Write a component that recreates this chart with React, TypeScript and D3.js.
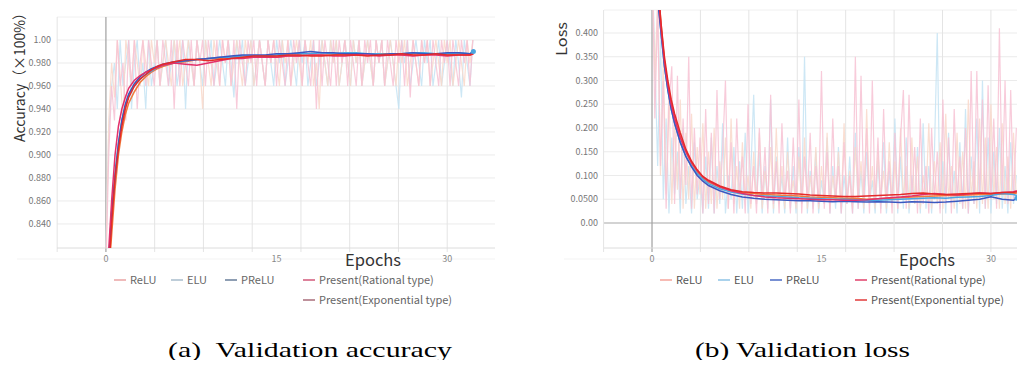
import React from "react";
import * as d3 from "d3";

// epochs used by the smoothed curves
const smoothEpochs = [0.2, 0.5, 0.8, 1.1, 1.4, 1.7, 2.0, 2.5, 3.0, 3.5, 4.0, 4.5, 5, 6, 7, 8, 9, 10, 11, 12, 13, 14, 15, 16, 17, 18, 19, 20, 21, 22, 23, 24, 25, 26, 27, 28, 29, 30, 31, 32, 32.3];
// raw (unsmoothed) values are logged every quarter epoch
const RAW_STEP = 0.25;

// ---- validation accuracy ----
const accRawPink = [
  0.80, 0.90, 0.96, 0.93, 1.00, 0.96, 0.98, 0.93, 1.00, 0.96, 1.00, 0.94, 0.98, 1.00, 0.96, 1.00, 0.98, 0.96, 1.00, 0.96,
  1.00, 0.98, 0.96, 1.00, 0.94, 1.00, 0.96, 1.00, 0.98, 0.96, 1.00, 0.96, 1.00, 0.98, 1.00, 0.96, 1.00, 0.98, 0.96, 1.00,
  0.96, 1.00, 0.98, 1.00, 0.96, 1.00, 0.94, 1.00, 0.98, 0.96, 1.00, 0.98, 1.00, 0.96, 1.00, 0.98, 0.96, 1.00, 0.98, 1.00,
  0.96, 1.00, 0.98, 0.96, 1.00, 0.96, 1.00, 0.98, 1.00, 0.96, 1.00, 0.98, 0.96, 1.00, 0.94, 1.00, 0.96, 1.00, 0.98, 0.96,
  1.00, 0.96, 1.00, 0.98, 1.00, 0.96, 1.00, 0.98, 0.96, 1.00, 0.96, 1.00, 0.98, 1.00, 0.96, 1.00, 0.98, 1.00, 0.96, 1.00,
  0.98, 0.96, 1.00, 0.98, 1.00, 0.96, 1.00, 0.95, 1.00, 0.98, 0.96, 1.00, 0.98, 1.00, 0.96, 1.00, 0.98, 0.96, 1.00, 0.98,
  1.00, 0.96, 1.00, 0.98, 0.96, 1.00, 0.98, 1.00, 0.96, 1.00
];
const accRawBlue = [
  0.82, 0.92, 0.96, 0.98, 0.94, 1.00, 0.96, 0.98, 1.00, 0.94, 0.98, 1.00, 0.96, 0.98, 0.94, 1.00, 0.96, 0.98, 1.00, 0.96,
  0.98, 1.00, 0.96, 0.98, 1.00, 0.96, 0.98, 1.00, 0.94, 1.00, 0.98, 0.96, 1.00, 0.98, 0.96, 1.00, 0.98, 1.00, 0.96, 0.98,
  1.00, 0.98, 0.96, 1.00, 0.98, 0.95, 1.00, 0.98, 1.00, 0.96, 0.98, 1.00, 0.96, 0.98, 1.00, 0.98, 0.96, 1.00, 0.98, 0.96,
  1.00, 0.98, 1.00, 0.96, 0.98, 1.00, 0.98, 0.96, 1.00, 0.98, 1.00, 0.96, 0.98, 1.00, 0.96, 0.98, 1.00, 0.98, 0.96, 1.00,
  0.98, 1.00, 0.96, 0.98, 1.00, 0.98, 0.96, 1.00, 0.98, 1.00, 0.96, 0.98, 1.00, 0.98, 0.96, 1.00, 0.98, 1.00, 0.96, 0.98,
  1.00, 0.98, 0.96, 0.94, 1.00, 0.98, 1.00, 0.96, 0.98, 1.00, 0.98, 0.96, 1.00, 0.98, 1.00, 0.96, 0.98, 1.00, 0.96, 0.98,
  1.00, 0.98, 0.96, 1.00, 0.98, 0.95, 1.00, 0.98, 0.96, 1.00
];
const accRawPeach = [
  0.81, 0.93, 0.98, 0.95, 1.00, 0.97, 0.93, 1.00, 0.98, 0.96, 1.00, 0.98, 0.96, 1.00, 0.98, 0.96, 1.00, 0.98, 1.00, 0.96,
  0.98, 1.00, 0.98, 0.96, 1.00, 0.98, 1.00, 0.96, 0.98, 1.00, 0.98, 0.96, 1.00, 0.98, 0.94, 1.00, 0.98, 0.96, 1.00, 0.98,
  0.96, 1.00, 0.98, 1.00, 0.96, 0.98, 1.00, 0.98, 0.96, 1.00, 0.98, 1.00, 0.96, 0.98, 1.00, 0.98, 0.96, 1.00, 0.98, 1.00,
  0.98, 0.96, 1.00, 0.98, 1.00, 0.96, 0.98, 1.00, 0.98, 0.96, 1.00, 0.98, 1.00, 0.96, 0.98, 0.94, 1.00, 0.98, 0.96, 1.00,
  0.98, 1.00, 0.96, 0.98, 1.00, 0.98, 0.96, 1.00, 0.98, 1.00, 0.96, 0.98, 1.00, 0.98, 0.96, 1.00, 0.98, 1.00, 0.96, 0.98,
  1.00, 0.98, 0.96, 1.00, 0.98, 1.00, 0.96, 0.98, 1.00, 0.98, 0.96, 1.00, 0.98, 1.00, 0.96, 0.98, 1.00, 0.98, 0.96, 1.00,
  0.98, 1.00, 0.96, 0.98, 1.00, 0.98, 0.96, 1.00, 0.98, 1.00
];
const accReLU = [0.79, 0.83, 0.87, 0.90, 0.92, 0.935, 0.945, 0.955, 0.963, 0.968, 0.972, 0.975, 0.977, 0.980, 0.981, 0.983, 0.984, 0.984, 0.985, 0.985, 0.985, 0.986, 0.985, 0.986, 0.986, 0.987, 0.987, 0.987, 0.988, 0.987, 0.988, 0.988, 0.988, 0.987, 0.988, 0.988, 0.988, 0.987, 0.988, 0.988, 0.989];
const accELU = [0.80, 0.85, 0.885, 0.91, 0.93, 0.942, 0.952, 0.960, 0.966, 0.970, 0.973, 0.976, 0.978, 0.980, 0.982, 0.983, 0.984, 0.985, 0.985, 0.986, 0.986, 0.986, 0.987, 0.988, 0.988, 0.988, 0.989, 0.988, 0.989, 0.989, 0.988, 0.988, 0.987, 0.988, 0.989, 0.989, 0.988, 0.988, 0.989, 0.988, 0.990];
const accPReLU = [0.80, 0.85, 0.88, 0.91, 0.93, 0.944, 0.953, 0.962, 0.968, 0.972, 0.975, 0.977, 0.979, 0.981, 0.982, 0.983, 0.984, 0.985, 0.986, 0.987, 0.987, 0.987, 0.988, 0.988, 0.989, 0.990, 0.989, 0.989, 0.988, 0.988, 0.988, 0.987, 0.988, 0.988, 0.989, 0.988, 0.988, 0.989, 0.989, 0.988, 0.990];
const accRational = [0.81, 0.86, 0.90, 0.925, 0.94, 0.950, 0.958, 0.965, 0.969, 0.972, 0.974, 0.976, 0.978, 0.980, 0.979, 0.978, 0.980, 0.982, 0.984, 0.984, 0.985, 0.985, 0.985, 0.986, 0.986, 0.987, 0.987, 0.986, 0.986, 0.987, 0.987, 0.986, 0.987, 0.987, 0.986, 0.987, 0.987, 0.986, 0.987, 0.987, 0.988];
const accExponential = [0.79, 0.84, 0.88, 0.905, 0.925, 0.940, 0.950, 0.960, 0.966, 0.970, 0.974, 0.977, 0.979, 0.981, 0.983, 0.983, 0.982, 0.983, 0.984, 0.985, 0.986, 0.986, 0.986, 0.987, 0.987, 0.986, 0.986, 0.987, 0.987, 0.987, 0.986, 0.987, 0.987, 0.988, 0.987, 0.987, 0.988, 0.987, 0.987, 0.987, 0.988];
const accTicks = [0.84, 0.86, 0.88, 0.90, 0.92, 0.94, 0.96, 0.98, 1.00];
const accTickLabels = ["0.840", "0.860", "0.880", "0.900", "0.920", "0.940", "0.960", "0.980", "1.00"];

// ---- validation loss ----
const lossRawPink = [
  0.60, 0.22, 0.45, 0.12, 0.30, 0.03, 0.25, 0.33, 0.04, 0.31, 0.05, 0.22, 0.08, 0.35, 0.03, 0.20, 0.06, 0.18, 0.02, 0.24,
  0.04, 0.19, 0.02, 0.28, 0.05, 0.15, 0.30, 0.03, 0.17, 0.02, 0.22, 0.06, 0.14, 0.02, 0.25, 0.04, 0.12, 0.02, 0.20, 0.05,
  0.16, 0.02, 0.27, 0.04, 0.13, 0.02, 0.21, 0.05, 0.11, 0.02, 0.18, 0.04, 0.26, 0.02, 0.14, 0.05, 0.19, 0.02, 0.12, 0.04,
  0.32, 0.03, 0.15, 0.02, 0.22, 0.05, 0.12, 0.02, 0.17, 0.04, 0.10, 0.02, 0.35, 0.03, 0.31, 0.05, 0.20, 0.02, 0.30, 0.04,
  0.18, 0.02, 0.24, 0.05, 0.13, 0.02, 0.19, 0.03, 0.18, 0.28, 0.03, 0.27, 0.05, 0.16, 0.02, 0.22, 0.04, 0.12, 0.02, 0.20,
  0.05, 0.15, 0.02, 0.26, 0.04, 0.18, 0.02, 0.24, 0.05, 0.14, 0.03, 0.20, 0.02, 0.32, 0.04, 0.32, 0.05, 0.26, 0.03, 0.29,
  0.05, 0.22, 0.03, 0.41, 0.06, 0.30, 0.04, 0.28, 0.05, 0.20
];
const lossRawBlue = [
  0.55, 0.35, 0.12, 0.40, 0.05, 0.22, 0.02, 0.18, 0.06, 0.15, 0.02, 0.20, 0.04, 0.12, 0.02, 0.17, 0.05, 0.10, 0.02, 0.14,
  0.03, 0.18, 0.02, 0.12, 0.04, 0.21, 0.02, 0.10, 0.05, 0.16, 0.02, 0.13, 0.03, 0.19, 0.02, 0.11, 0.27, 0.04, 0.15, 0.02,
  0.12, 0.03, 0.26, 0.02, 0.14, 0.04, 0.10, 0.02, 0.18, 0.03, 0.12, 0.02, 0.16, 0.04, 0.35, 0.02, 0.11, 0.03, 0.15, 0.02,
  0.09, 0.04, 0.18, 0.02, 0.12, 0.03, 0.16, 0.02, 0.10, 0.04, 0.14, 0.02, 0.19, 0.03, 0.11, 0.02, 0.15, 0.04, 0.09, 0.02,
  0.13, 0.03, 0.17, 0.02, 0.11, 0.04, 0.22, 0.02, 0.14, 0.03, 0.18, 0.02, 0.10, 0.04, 0.16, 0.02, 0.21, 0.03, 0.12, 0.02,
  0.15, 0.40, 0.03, 0.13, 0.02, 0.19, 0.04, 0.11, 0.02, 0.17, 0.03, 0.24, 0.02, 0.14, 0.04, 0.22, 0.02, 0.30, 0.03, 0.18,
  0.02, 0.15, 0.04, 0.20, 0.03, 0.12, 0.02, 0.17, 0.04, 0.10
];
const lossRawPeach = [
  0.58, 0.30, 0.48, 0.10, 0.35, 0.06, 0.28, 0.04, 0.21, 0.07, 0.26, 0.03, 0.19, 0.05, 0.23, 0.03, 0.16, 0.06, 0.21, 0.03,
  0.15, 0.04, 0.20, 0.03, 0.13, 0.05, 0.18, 0.03, 0.22, 0.04, 0.12, 0.03, 0.17, 0.05, 0.10, 0.03, 0.15, 0.04, 0.19, 0.03,
  0.11, 0.05, 0.16, 0.03, 0.20, 0.04, 0.12, 0.03, 0.15, 0.05, 0.09, 0.03, 0.14, 0.04, 0.18, 0.03, 0.10, 0.05, 0.16, 0.03,
  0.12, 0.04, 0.19, 0.03, 0.10, 0.05, 0.15, 0.03, 0.21, 0.04, 0.11, 0.03, 0.16, 0.05, 0.13, 0.03, 0.24, 0.04, 0.12, 0.03,
  0.15, 0.05, 0.11, 0.03, 0.17, 0.04, 0.13, 0.03, 0.20, 0.05, 0.12, 0.03, 0.18, 0.04, 0.14, 0.03, 0.10, 0.05, 0.21, 0.03,
  0.13, 0.04, 0.17, 0.03, 0.23, 0.05, 0.12, 0.03, 0.19, 0.04, 0.15, 0.03, 0.26, 0.05, 0.13, 0.03, 0.22, 0.04, 0.18, 0.03,
  0.25, 0.05, 0.16, 0.03, 0.21, 0.04, 0.14, 0.03, 0.19, 0.05
];
const lossReLU = [0.60, 0.50, 0.42, 0.34, 0.29, 0.25, 0.22, 0.18, 0.15, 0.125, 0.108, 0.095, 0.086, 0.075, 0.068, 0.064, 0.062, 0.060, 0.059, 0.058, 0.057, 0.055, 0.054, 0.053, 0.052, 0.052, 0.050, 0.051, 0.052, 0.053, 0.055, 0.056, 0.057, 0.058, 0.058, 0.059, 0.060, 0.060, 0.061, 0.062, 0.063];
const lossELU = [0.58, 0.48, 0.40, 0.33, 0.28, 0.24, 0.21, 0.17, 0.14, 0.12, 0.104, 0.092, 0.083, 0.072, 0.065, 0.061, 0.058, 0.057, 0.056, 0.055, 0.053, 0.052, 0.051, 0.050, 0.050, 0.049, 0.048, 0.048, 0.049, 0.050, 0.051, 0.052, 0.053, 0.052, 0.054, 0.055, 0.056, 0.058, 0.062, 0.060, 0.058];
const lossPReLU = [0.58, 0.47, 0.40, 0.33, 0.28, 0.24, 0.21, 0.17, 0.14, 0.118, 0.100, 0.088, 0.079, 0.068, 0.060, 0.055, 0.052, 0.050, 0.049, 0.048, 0.047, 0.047, 0.046, 0.045, 0.046, 0.045, 0.044, 0.045, 0.044, 0.043, 0.045, 0.044, 0.043, 0.044, 0.046, 0.048, 0.050, 0.055, 0.050, 0.048, 0.052];
const lossRational = [0.60, 0.50, 0.41, 0.34, 0.29, 0.25, 0.22, 0.18, 0.15, 0.127, 0.110, 0.097, 0.088, 0.076, 0.068, 0.062, 0.058, 0.055, 0.053, 0.052, 0.051, 0.050, 0.049, 0.049, 0.048, 0.048, 0.049, 0.051, 0.053, 0.055, 0.057, 0.060, 0.062, 0.060, 0.059, 0.061, 0.063, 0.062, 0.064, 0.066, 0.068];
const lossExponential = [0.61, 0.51, 0.42, 0.35, 0.30, 0.26, 0.23, 0.19, 0.155, 0.13, 0.112, 0.098, 0.090, 0.078, 0.070, 0.066, 0.064, 0.063, 0.063, 0.062, 0.061, 0.059, 0.058, 0.057, 0.056, 0.056, 0.057, 0.058, 0.059, 0.060, 0.062, 0.063, 0.061, 0.060, 0.061, 0.062, 0.063, 0.062, 0.064, 0.065, 0.066];
const lossTicks = [0, 0.05, 0.1, 0.15, 0.2, 0.25, 0.3, 0.35, 0.4];
const lossTickLabels = ["0.00", "0.0500", "0.100", "0.150", "0.200", "0.250", "0.300", "0.350", "0.400"];

const xTickValues = [0, 15, 30];
const xTickLabels = ["0", "15", "30"];
const legendNames = ["ReLU", "ELU", "PReLU", "Present(Rational type)", "Present(Exponential type)"];

const lineColors = ["#f07a3c", "#4aa6e0", "#3a58c0", "#e3306a", "#e42a2a"];
const rawColors = ["#c4e3f3", "#f9d8ca", "#f7c2d3"];
const SANS = "'Noto Sans CJK JP', 'Noto Sans', sans-serif";
const SERIF = "'Liberation Serif', 'Times New Roman', Times, 'DejaVu Serif', serif";

type PanelProps = {
  id: string;
  left: number; right: number; top: number; bottom: number;
  xDomain: [number, number];
  yDomain: [number, number];
  yTicks: number[]; yTickLabels: string[];
  raw: number[][];
  smooth: number[][];
  legendColors: string[];
  legendX: number[];
  legendText: string;
  yLabel: string; yLabelX: number; yLabelY: number; yLabelLen: number;
  epochsX: number;
  zeroLine: boolean;
};

function Panel(p: PanelProps) {
  const x = d3.scaleLinear().domain(p.xDomain).range([p.left, p.right]);
  const y = d3.scaleLinear().domain(p.yDomain).range([p.bottom, p.top]);
  const gridStep = 30 / 7;
  const vgrid = d3.range(-1, 8).map((k) => k * gridStep);
  const rawLine = d3.line<number>().x((_, i) => x(i * RAW_STEP)).y((d) => y(d));
  const smoothLine = d3.line<number>().x((_, i) => x(smoothEpochs[i])).y((d) => y(d));
  const last = smoothEpochs.length - 1;

  return (
    <g>
      <defs>
        <clipPath id={p.id}>
          <rect x={p.left} y={p.top} width={p.right - p.left} height={p.bottom - p.top} />
        </clipPath>
      </defs>
      {/* grid */}
      <line x1={p.left} x2={p.right} y1={p.top} y2={p.top} stroke="#f0f0f0" />
      {p.yTicks.map((t) => (
        <line key={t} x1={p.left} x2={p.right} y1={y(t)} y2={y(t)}
          stroke={t === 0 && p.zeroLine ? "#a8a8a8" : "#ebebeb"} strokeWidth={t === 0 && p.zeroLine ? 1.2 : 1} />
      ))}
      {vgrid.map((e) => (
        <line key={e} x1={x(e)} x2={x(e)} y1={p.top} y2={p.bottom + 4}
          stroke={e === 0 ? "#a0a0a0" : "#e4e4e4"} strokeWidth={e === 0 ? 1.2 : 1} />
      ))}
      <line x1={p.left} x2={p.right} y1={p.bottom} y2={p.bottom} stroke="#dcdcdc" />
      <line x1={p.left - 40} x2={p.right} y1={259} y2={259} stroke="#f3f3f3" />

      {/* data */}
      <g clipPath={`url(#${p.id})`}>
        {p.raw.map((r, i) => (
          <path key={i} d={rawLine(r) || ""} fill="none" stroke={rawColors[i]} strokeWidth={1.2} opacity={0.85} />
        ))}
        {p.smooth.map((s, i) => (
          <path key={i} d={smoothLine(s) || ""} fill="none" stroke={lineColors[i]} strokeWidth={1.5} />
        ))}
        <circle cx={x(smoothEpochs[last])} cy={y(p.smooth[2][last])} r={2.5} fill={lineColors[1]} />
      </g>

      {/* y ticks */}
      {p.yTicks.map((t, i) => (
        <text key={t} x={p.left - 6} y={y(t)} dy="0.35em" textAnchor="end"
          style={{ fontFamily: SANS }} fontSize={9} fill="#777">{p.yTickLabels[i]}</text>
      ))}
      {/* x ticks */}
      {xTickValues.map((t, i) => (
        <text key={t} x={x(t)} y={262} textAnchor="middle" style={{ fontFamily: SANS }} fontSize={9} fill="#888">{xTickLabels[i]}</text>
      ))}
      <text x={p.epochsX} y={266} textAnchor="middle" style={{ fontFamily: SANS }} fontSize={16.5} fill="#333">Epochs</text>
      <text transform={`translate(${p.yLabelX},${p.yLabelY}) rotate(-90)`} textAnchor="middle"
        style={{ fontFamily: SANS }} fontSize={14.5} fill="#333" textLength={p.yLabelLen} lengthAdjust="spacingAndGlyphs">{p.yLabel}</text>

      {/* legend */}
      {legendNames.map((name, i) => {
        const lx = p.legendX[Math.min(i, 3)];
        const ly = i < 4 ? 280 : 300;
        return (
          <g key={name}>
            <line x1={lx} x2={lx + 12} y1={ly} y2={ly} stroke={p.legendColors[i]} strokeWidth={1.5} />
            <text x={lx + 16} y={ly} dy="0.35em" style={{ fontFamily: SANS }} fontSize={11} fill={p.legendText}>{name}</text>
          </g>
        );
      })}
    </g>
  );
}

export default function App() {
  return (
    <svg width={1025} height={368} style={{ display: "block", margin: "-8px" }} viewBox="0 0 1025 368">
      <rect width={1025} height={368} fill="#fff" />
      <Panel id="clipA" left={57} right={495} top={17} bottom={248}
        xDomain={[-4.3, 34.2]} yDomain={[0.8191, 1.02]}
        yTicks={accTicks} yTickLabels={accTickLabels}
        raw={[accRawBlue, accRawPeach, accRawPink]}
        smooth={[accReLU, accELU, accPReLU, accRational, accExponential]}
        legendColors={["#eaa3a3", "#a9bdcc", "#687e9a", "#d2587a", "#a86c7a"]}
        legendX={[114, 171, 225, 303]} legendText="#666"
        yLabel="Accuracy（×100%）" yLabelX={25} yLabelY={74} yLabelLen={136}
        epochsX={373} zeroLine={false} />
      <Panel id="clipB" left={604} right={1022} top={10} bottom={248}
        xDomain={[-4.25, 32.75]} yDomain={[-0.0526, 0.4484]}
        yTicks={lossTicks} yTickLabels={lossTickLabels}
        raw={[lossRawBlue, lossRawPeach, lossRawPink]}
        smooth={[lossReLU, lossELU, lossPReLU, lossRational, lossExponential]}
        legendColors={["#f4a59b", "#8ec3e6", "#4b6bc4", "#e0406a", "#e23a3a"]}
        legendX={[660, 718, 770, 855]} legendText="#555"
        yLabel="Loss" yLabelX={567} yLabelY={39} yLabelLen={34}
        epochsX={927} zeroLine={true} />
      <text x={168} y={357} fontFamily={SERIF} fontSize={22} fill="#000" xmlSpace="preserve"
        textLength={284} lengthAdjust="spacingAndGlyphs">{"(a)  Validation accuracy"}</text>
      <text x={695} y={357} fontFamily={SERIF} fontSize={22} fill="#000"
        textLength={215} lengthAdjust="spacingAndGlyphs">(b) Validation loss</text>
    </svg>
  );
}
